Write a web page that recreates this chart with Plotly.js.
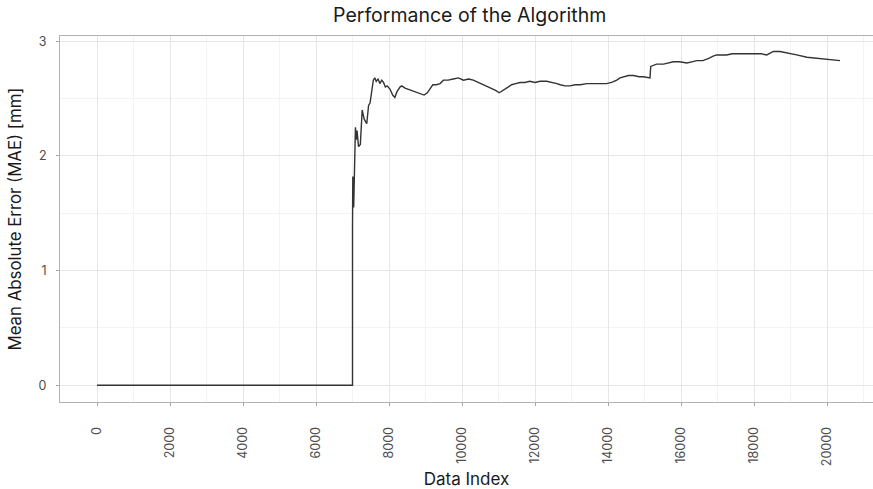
<!DOCTYPE html>
<html>
<head>
<meta charset="utf-8">
<script src="https://cdn.plot.ly/plotly-3.0.1.min.js"></script>
<style>
  html, body { margin: 0; padding: 0; background: #ffffff; }
  #chart { width: 873px; height: 489px; }
</style>
</head>
<body>
<div id="chart"></div>
<script>
// Running mean absolute error of the algorithm, by data index
const dataIndex = [
  0, 7000, 7000, 7008, 7016, 7024, 7032, 7045, 7060, 7080, 7105, 7125, 7165, 7215,
  7265, 7320, 7390, 7440, 7480, 7525, 7570, 7610, 7650, 7700, 7750, 7800, 7850,
  7900, 7950, 8030, 8100, 8160, 8220, 8300, 8350, 8440, 8520, 8600, 8700, 8800,
  8880, 8960, 9050, 9130, 9200, 9300, 9400, 9490, 9620, 9760, 9900, 10040, 10180,
  10310, 10450, 10590, 10700, 10810, 10920, 11020, 11120, 11230, 11360, 11470,
  11590, 11720, 11860, 12000, 12140, 12320, 12500, 12600, 12690, 12820, 12960,
  13100, 13240, 13420, 13600, 13780, 13960, 14100, 14240, 14330, 14420, 14560,
  14700, 14850, 14970, 15150, 15170, 15330, 15520, 15650, 15790, 15960, 16160,
  16300, 16430, 16600, 16710, 16760, 16880, 16980, 17110, 17250, 17400, 17530,
  17670, 17800, 17940, 18080, 18200, 18350, 18450, 18530, 18710, 18900, 19170,
  19450, 19720, 20000, 20356
];
const maeMm = [
  0, 0, 1.38, 1.82, 1.45, 1.78, 1.55, 1.80, 1.75, 2.25, 2.14, 2.22, 2.08, 2.10,
  2.40, 2.32, 2.28, 2.44, 2.46, 2.56, 2.66, 2.68, 2.65, 2.67, 2.63, 2.66, 2.64,
  2.60, 2.61, 2.58, 2.53, 2.51, 2.56, 2.60, 2.61, 2.59, 2.58, 2.57, 2.56, 2.55,
  2.54, 2.53, 2.55, 2.59, 2.62, 2.62, 2.63, 2.66, 2.66, 2.67, 2.68, 2.66, 2.67,
  2.66, 2.64, 2.62, 2.60, 2.59, 2.57, 2.55, 2.57, 2.59, 2.62, 2.63,
  2.64, 2.64, 2.65, 2.64, 2.65, 2.65, 2.64, 2.63, 2.62, 2.61, 2.61,
  2.62, 2.62, 2.63, 2.63, 2.63, 2.63, 2.64, 2.66, 2.68, 2.69, 2.70,
  2.70, 2.69, 2.69, 2.68, 2.78, 2.80, 2.80, 2.81, 2.82, 2.82, 2.81,
  2.82, 2.83, 2.83, 2.84, 2.85, 2.87, 2.88, 2.88, 2.88, 2.89, 2.89,
  2.89, 2.89, 2.89, 2.89, 2.89, 2.88, 2.90, 2.91, 2.91, 2.90, 2.88,
  2.86, 2.85, 2.84, 2.83
];
const xTickValues = [0, 2000, 4000, 6000, 8000, 10000, 12000, 14000, 16000, 18000, 20000];
const yTickValues = [0, 1, 2, 3];

const font = 'Inter, Liberation Sans, Arial, sans-serif';

const trace = {
  x: dataIndex,
  y: maeMm,
  type: 'scatter',
  mode: 'lines',
  line: { color: '#333333', width: 1.4 },
  hoverinfo: 'x+y'
};

const axisCommon = {
  showline: true,
  linecolor: '#b3b3b3',
  linewidth: 1,
  mirror: true,
  ticks: 'outside',
  ticklen: 3,
  tickwidth: 1,
  tickcolor: '#a6a6a6',
  showgrid: true,
  gridcolor: '#e6e6e6',
  gridwidth: 1,
  zeroline: false,
  tickfont: { family: font, size: 12.5, color: '#4d4d4d' }
};

const layout = {
  width: 873,
  height: 489,
  margin: { l: 60, r: 0, t: 36, b: 87 },
  paper_bgcolor: '#ffffff',
  plot_bgcolor: '#ffffff',
  showlegend: false,
  font: { family: font },
  title: {
    text: 'Performance of the Algorithm',
    xref: 'container',
    yref: 'container',
    x: 0.538,
    xanchor: 'center',
    y: 0.968,
    yanchor: 'middle',
    font: { family: font, size: 19.5, color: '#1a1a1a' }
  },
  xaxis: Object.assign({}, axisCommon, {
    range: [-1014, 21260],
    tickmode: 'array',
    tickvals: xTickValues,
    ticktext: xTickValues.map(String),
    tickangle: -90,
    ticklabelstandoff: 16,
    minor: { dtick: 1000, tick0: 0, showgrid: true, gridcolor: '#f3f3f3', gridwidth: 1, ticks: '' },
    title: { text: 'Data Index', standoff: 8, font: { family: font, size: 17, color: '#1a1a1a' } }
  }),
  yaxis: Object.assign({}, axisCommon, {
    range: [-0.146, 3.045],
    tickmode: 'array',
    tickvals: yTickValues,
    ticktext: yTickValues.map(String),
    ticklabelstandoff: 7,
    minor: { dtick: 0.5, tick0: 0, showgrid: true, gridcolor: '#f3f3f3', gridwidth: 1, ticks: '' },
    title: { text: 'Mean Absolute Error (MAE) [mm]', standoff: 12, font: { family: font, size: 16.8, color: '#1a1a1a' } }
  })
};

Plotly.newPlot('chart', [trace], layout, { displayModeBar: false, staticPlot: true });
</script>
</body>
</html>
